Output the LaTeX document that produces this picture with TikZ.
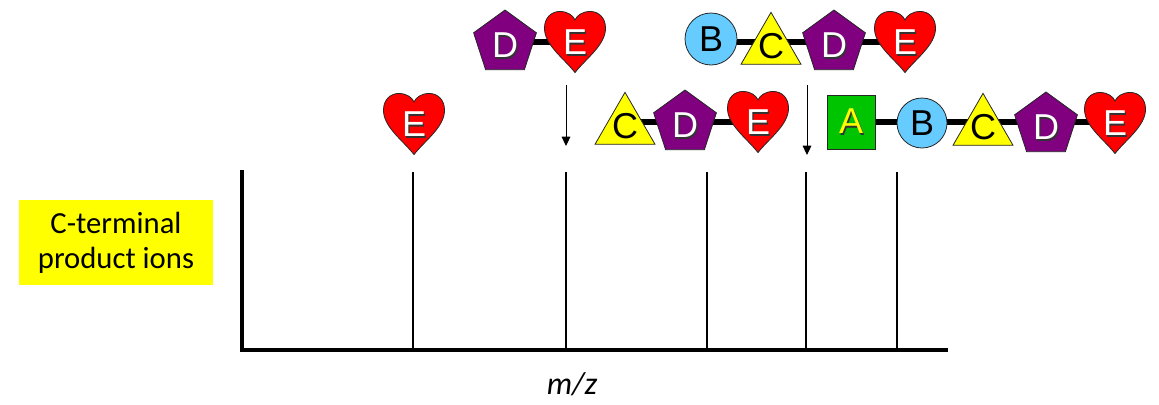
\documentclass[tikz,border=0pt]{standalone}
\usepackage{fontspec}
\newfontfamily\carl{Carlito}
\newfontfamily\arl{Liberation Sans}
\usetikzlibrary{shapes.geometric,arrows.meta,backgrounds}
\definecolor{gpurple}{RGB}{128,0,128}
\definecolor{gred}{RGB}{255,0,0}
\definecolor{gyellow}{RGB}{255,255,0}
\definecolor{gblue}{RGB}{102,204,255}
\definecolor{ggreen}{RGB}{0,196,0}
\newcommand\shtxt[2]{\makebox[0pt][l]{\hspace{1.1pt}\raisebox{-1.1pt}{\color{black!80}#2}}{\color{#1}#2}}
\tikzset{
  outl/.style={draw=black!85, line width=0.6pt},
  penta/.style={regular polygon, regular polygon sides=5, minimum size=49.5pt, inner sep=0pt, fill=gpurple, outl},
  tri/.style={regular polygon, regular polygon sides=3, minimum size=52pt, inner sep=0pt, fill=gyellow, outl},
  circ/.style={circle, minimum size=39pt, inner sep=0pt, fill=gblue, outl},
  sq/.style={rectangle, minimum width=36pt, minimum height=40.5pt, inner sep=0pt, fill=ggreen, outl},
  heartsty/.style={fill=gred, outl},
  lett/.style={inner sep=0pt, font=\arl\fontsize{27}{31}\selectfont},
  link/.style={line width=5.2pt, black},
  axisline/.style={line width=2.4pt},
  peak/.style={line width=1.6pt},
  arr/.style={line width=0.75pt, -{Triangle[length=7pt,width=6.5pt]}},
  labelbox/.style={fill=gyellow, inner sep=0pt, minimum width=145.5pt, minimum height=63.75pt, align=center, font=\carl\fontsize{23}{26.5}\selectfont},
}
\newcommand\heartat[3]{%
  \begin{scope}[shift={(#2,#3)},x=22.9pt,y=22.9pt]
    \filldraw[heartsty] (0,-1) .. controls (-0.35,-0.55) and (-1,-0.1) .. (-1,0.45)
      .. controls (-1,0.82) and (-0.75,1) .. (-0.5,1)
      .. controls (-0.22,1) and (-0.05,0.85) .. (0,0.72)
      .. controls (0.05,0.85) and (0.22,1) .. (0.5,1)
      .. controls (0.75,1) and (1,0.82) .. (1,0.45)
      .. controls (1,-0.1) and (0.35,-0.55) .. (0,-1) -- cycle;
  \end{scope}
  \node[lett] (#1) at (#2,#3+1) {\shtxt{white}{E}};
}
\begin{document}
\begin{tikzpicture}[x=0.75pt,y=-0.75pt]
\useasboundingbox (0,0) rectangle (1159,404);

% axes and peaks
\draw[axisline] (242,170) |- (948,350);
\foreach \px in {413,566,707,806,897} {
  \draw[peak] (\px,172) -- (\px,350);
}

% label
\node[labelbox] (lab) at (116,242.5) {C-terminal\\product ions};
\node[font=\carl\itshape\fontsize{24}{28}\selectfont, inner sep=0pt] (mz) at (572,384) {m/z};

% link heights
\coordinate (r1) at (0,42);
\coordinate (r2) at (0,122);

% row 1: D-E
\node[penta] (d1) at (505,43) {};
\node[lett] (d1l) at (505,46) {\shtxt{white}{D}};
\heartat{e1}{575}{42}

% row 1: B-C-D-E
\node[circ] (b2) at (711,39) {};
\node[lett] (b2l) at (711,39) {B};
\node[tri] (c2) at (771,47) {};
\node[lett] (c2l) at (771,46) {C};
\node[penta] (d2) at (834,43) {};
\node[lett] (d2l) at (834,46) {\shtxt{white}{D}};
\heartat{e2}{905}{42}

% row 2: E
\heartat{e3}{414}{124}

% row 2: C-D-E
\node[tri] (c4) at (625,127) {};
\node[lett] (c4l) at (625,126) {C};
\node[penta] (d4) at (685,123) {};
\node[lett] (d4l) at (685,126) {\shtxt{white}{D}};
\heartat{e4}{758}{122}

% row 2: A-B-C-D-E
\node[sq] (a5) at (851,122) {};
\node[lett] (a5l) at (851,122) {\shtxt{gyellow}{A}};
\node[circ, minimum size=37.5pt] (b5) at (922,123) {};
\node[lett] (b5l) at (922,123) {B};
\node[tri] (c5) at (983,128) {};
\node[lett] (c5l) at (983,127) {C};
\node[penta] (d5) at (1046,125) {};
\node[lett] (d5l) at (1046,128) {\shtxt{white}{D}};
\heartat{e5}{1115}{123}

% links
\begin{scope}[on background layer]
  \draw[link] (d1 |- r1) -- (e1 |- r1);
  \draw[link] (b2 |- r1) -- (e2 |- r1);
  \draw[link] (c4 |- r2) -- (e4 |- r2);
  \draw[link] (a5.east |- r2) -- (e5 |- r2);
\end{scope}

% arrows
\coordinate (t1) at (566,85);
\coordinate (h1) at (566,146);
\coordinate (t2) at (807,85);
\coordinate (h2) at (807,155);
\draw[arr] (t1) -- (h1);
\draw[arr] (t2) -- (h2);
\end{tikzpicture}
\end{document}
